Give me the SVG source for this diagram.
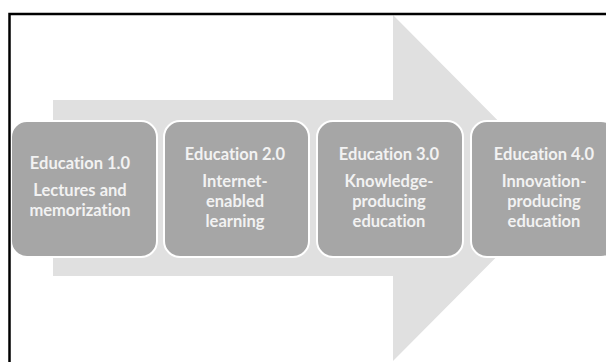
<svg xmlns="http://www.w3.org/2000/svg" width="606" height="362" viewBox="0 0 606 362">
<style>
.box{fill:#a6a6a6;stroke:#ffffff;stroke-width:2}
.t{font-family:Lato,"Open Sans","Liberation Sans",sans-serif;font-size:16.5px;font-weight:bold;font-variant-ligatures:none;fill:#f2f2f2;text-anchor:middle}
</style>
<rect width="606" height="362" fill="#ffffff"/>
<g id="arrow">
<polygon points="53,100 393,100 393,15 565,188 393,361 393,276 53,276" fill="#e0e0e0"/>
</g>
<g id="node1">
<rect class="box" x="11" y="121" width="146" height="136" rx="16"/>
<text class="t" x="80" y="169">Education 1.0</text>
<text class="t" x="80" y="196">Lectures and</text>
<text class="t" x="80" y="216">memorization</text>
</g>
<g id="node2">
<rect class="box" x="164" y="121" width="145" height="136" rx="16"/>
<text class="t" x="235" y="160">Education 2.0</text>
<text class="t" x="235" y="187">Internet-</text>
<text class="t" x="235" y="207">enabled</text>
<text class="t" x="235" y="227">learning</text>
</g>
<g id="node3">
<rect class="box" x="317" y="121" width="146" height="136" rx="16"/>
<text class="t" x="389" y="160">Education 3.0</text>
<text class="t" x="389" y="187">Knowledge-</text>
<text class="t" x="389" y="207">producing</text>
<text class="t" x="389" y="227">education</text>
</g>
<g id="node4">
<rect class="box" x="471" y="121" width="146" height="136" rx="16"/>
<text class="t" x="544" y="160">Education 4.0</text>
<text class="t" x="544" y="187">Innovation-</text>
<text class="t" x="544" y="207">producing</text>
<text class="t" x="544" y="227">education</text>
</g>
<g id="connectors"></g>
<path d="M9.5,362 V14 H606" fill="none" stroke="#000000" stroke-width="2.5"/>
</svg>
